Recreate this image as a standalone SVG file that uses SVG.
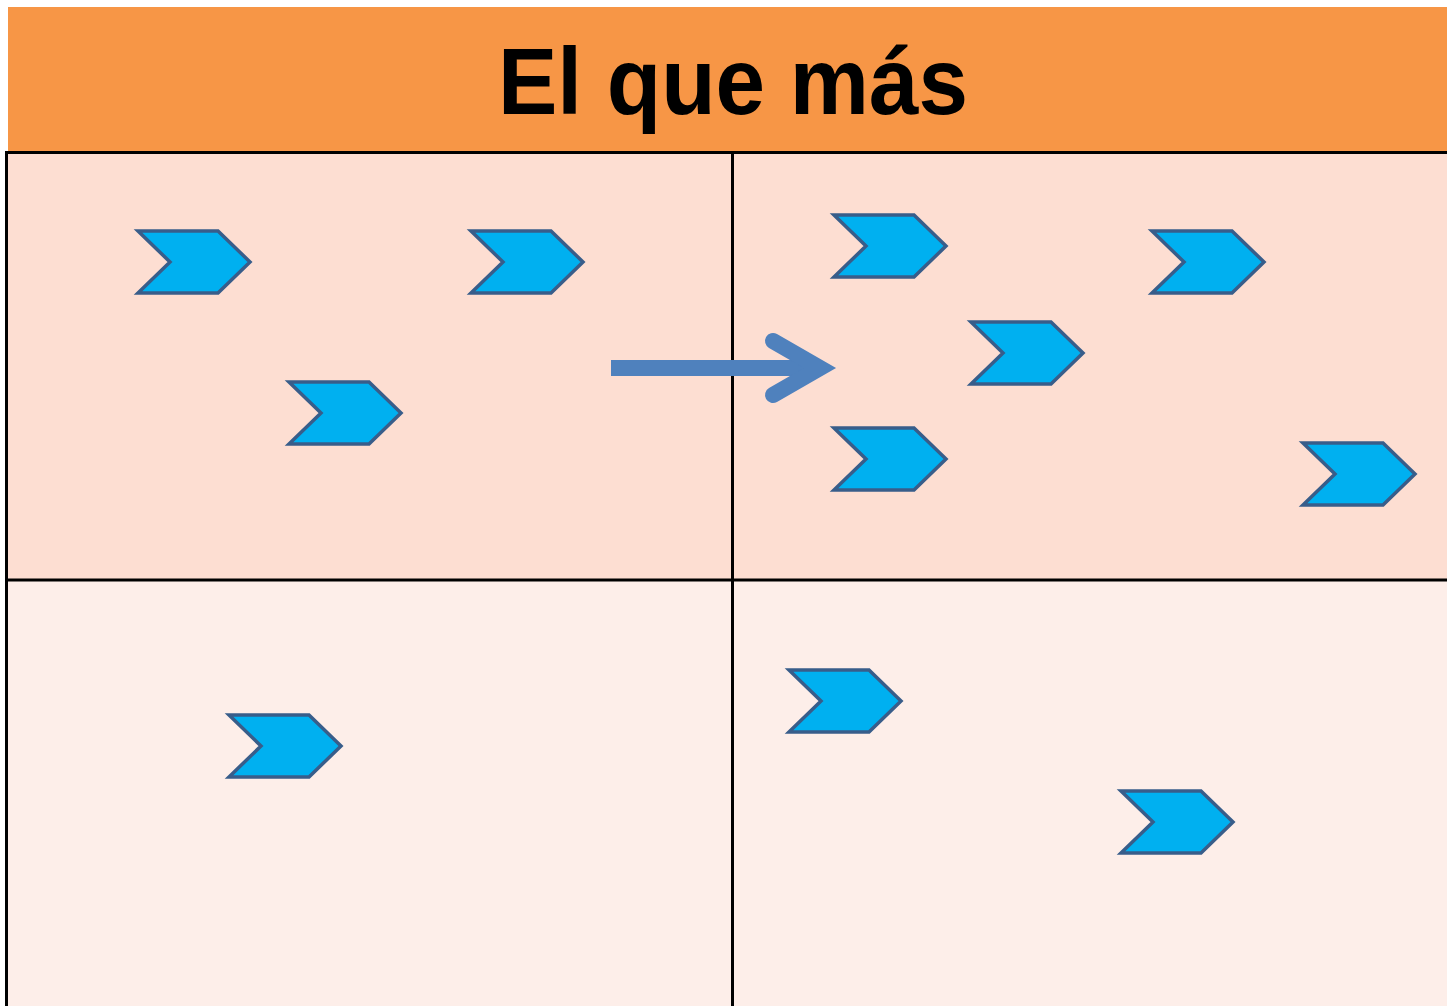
<svg xmlns="http://www.w3.org/2000/svg" width="1447" height="1006" viewBox="0 0 1447 1006">
  <style>
    .chev { fill: #00B0F0; stroke: #385D8A; stroke-width: 3.5; stroke-linejoin: miter; }
    .grid { stroke: #000; stroke-width: 3; fill: none; }
    .title { font-family: "Liberation Sans", Arial, sans-serif; font-weight: bold; font-size: 94px; fill: #000; }
  </style>
  <defs>
    <polygon id="chevron" points="0,0 80,0 112,31 80,62 0,62 32,31"/>
  </defs>
  <rect x="0" y="0" width="1447" height="1006" fill="#FFFFFF"/>
  <g id="header">
    <rect x="8" y="7" width="1439" height="146" fill="#F79646"/>
    <text class="title" x="733" y="114" text-anchor="middle" textLength="470" lengthAdjust="spacingAndGlyphs">El que más</text>
  </g>
  <g id="table">
    <rect x="7" y="153" width="725" height="427" fill="#FDDED2"/>
    <rect x="732" y="153" width="715" height="427" fill="#FDDED2"/>
    <rect x="7" y="580" width="725" height="426" fill="#FDEEE9"/>
    <rect x="732" y="580" width="715" height="426" fill="#FDEEE9"/>
    <line class="grid" x1="5.5" y1="152.5" x2="1447" y2="152.5"/>
    <line class="grid" x1="7" y1="580" x2="1447" y2="580"/>
    <line class="grid" x1="6.5" y1="151" x2="6.5" y2="1006"/>
    <line class="grid" x1="732.5" y1="151" x2="732.5" y2="1006"/>
  </g>
  <g id="chevrons">
    <g id="c1"><use href="#chevron" class="chev" x="138" y="231"/></g>
    <g id="c2"><use href="#chevron" class="chev" x="471" y="231"/></g>
    <g id="c3"><use href="#chevron" class="chev" x="289" y="382"/></g>
    <g id="c4"><use href="#chevron" class="chev" x="834" y="215"/></g>
    <g id="c5"><use href="#chevron" class="chev" x="1152" y="231"/></g>
    <g id="c6"><use href="#chevron" class="chev" x="971" y="322"/></g>
    <g id="c7"><use href="#chevron" class="chev" x="834" y="428"/></g>
    <g id="c8"><use href="#chevron" class="chev" x="1303" y="443"/></g>
    <g id="c9"><use href="#chevron" class="chev" x="229" y="715"/></g>
    <g id="c10"><use href="#chevron" class="chev" x="789" y="670"/></g>
    <g id="c11"><use href="#chevron" class="chev" x="1121" y="791"/></g>
  </g>
  <g id="connectors">
    <line x1="611" y1="368" x2="822" y2="368" stroke="#4F81BD" stroke-width="16"/>
    <polyline points="773,341 820,368 773,395" fill="none" stroke="#4F81BD" stroke-width="16" stroke-linecap="round" stroke-linejoin="miter" stroke-miterlimit="10"/>
  </g>
</svg>
